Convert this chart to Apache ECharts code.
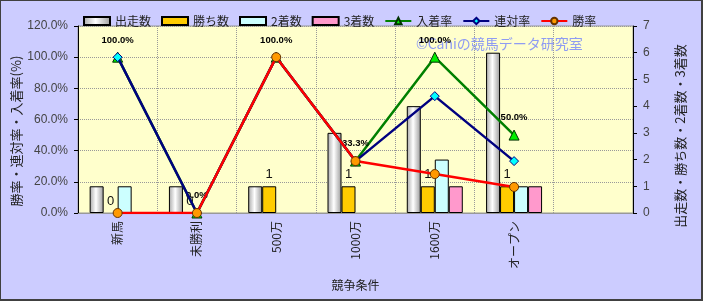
<!DOCTYPE html>
<html><head><meta charset="utf-8">
<script src="https://cdn.jsdelivr.net/npm/echarts@6/dist/echarts.min.js"></script>
<style>
html,body{margin:0;padding:0;background:#ccccff;}
#c{width:703px;height:301px;box-sizing:border-box;border:1px solid #404040;border-right-width:2px;border-bottom-width:2px;}
</style></head><body>
<div id="c"></div>
<script>
const categories = ['新馬','未勝利','500万','1000万','1600万','オープン',''];
const starts  = [1,1,1,3,4,6,null];
const wins    = [0,0,1,1,1,1,null];
const seconds = [1,0,0,0,2,1,null];
const thirds  = [0,0,0,0,1,1,null];
const placeRate   = [100,0,100,33.3,100,50,null];
const rentaiRate  = [100,0,100,33.3,75,33.3,null];
const winRate     = [0,0,100,33.3,25,16.7,null];
const leftTicks = [0,20,40,60,80,100,120];

const FONT = "'Liberation Sans','Noto Sans CJK JP',sans-serif";
const JP = "'Noto Sans CJK JP',sans-serif";
const chart = echarts.init(document.getElementById('c'), null, {renderer:'canvas'});
const grayGrad = new echarts.graphic.LinearGradient(0,0,1,0,[
  {offset:0,color:'#a8a8a8'},{offset:0.45,color:'#ffffff'},{offset:1,color:'#9a9a9a'}]);
const barBase = {type:'bar', yAxisIndex:1, barWidth:14, barGap:'0%'};
// zero-height bars are not outlined in the reference
const hideZero = arr => arr.map(v => v === 0 ? {value:v, itemStyle:{borderWidth:0}} : v);
chart.setOption({
  animation:false,
  backgroundColor:'#ccccff',
  textStyle:{fontFamily:FONT},
  legend:{
    left:77, top:9, itemWidth:26, itemHeight:8, itemGap:10,
    textStyle:{fontSize:12, color:'#222', fontFamily:JP},
    data:[
      {name:'出走数',icon:'rect'},{name:'勝ち数',icon:'rect'},{name:'2着数',icon:'rect'},{name:'3着数',icon:'rect'},
      {name:'入着率'},{name:'連対率'},{name:'勝率'}]
  },
  grid:{left:77,right:68,top:25,bottom:86,show:true,backgroundColor:'#ffffcc',borderColor:'#999',borderWidth:1},
  xAxis:{
    type:'category', data:categories,
    name:'競争条件', nameLocation:'middle', nameGap:66,
    nameTextStyle:{fontSize:12,color:'#222',fontFamily:JP},
    axisLine:{lineStyle:{color:'#999'}}, axisTick:{show:false},
    axisLabel:{rotate:90, fontSize:12, color:'#222', margin:8, fontFamily:JP},
    splitLine:{show:true, lineStyle:{color:'#999', type:'dotted'}}
  },
  yAxis:[
    {type:'value', min:0, max:120, interval:20,
     axisLine:{show:true,lineStyle:{color:'#000'}}, axisTick:{show:true,length:4,lineStyle:{color:'#000'}},
     axisLabel:{fontSize:12,color:'#444',margin:10,formatter:v=>v.toFixed(1)+'%'},
     splitLine:{show:true,lineStyle:{color:'#999',type:'dotted'}}},
    {type:'value', min:0, max:7, interval:1, position:'right',
     axisLine:{show:true,lineStyle:{color:'#000'}}, axisTick:{show:true,length:4,lineStyle:{color:'#000'}},
     axisLabel:{fontSize:12,color:'#444',margin:10},
     splitLine:{show:false}}
  ],
  graphic:[
    {type:'text', x:15, y:130, rotation:Math.PI/2, z:5,
     style:{text:'勝率・連対率・入着率(%)', fontSize:13, fontFamily:JP, fill:'#222', align:'center', verticalAlign:'middle'}},
    {type:'text', x:679, y:135, rotation:Math.PI/2, z:5,
     style:{text:'出走数・勝ち数・2着数・3着数', fontSize:13, fontFamily:JP, fill:'#222', align:'center', verticalAlign:'middle'}},
    {type:'text', left:415, top:36, z:1,
     style:{text:'©Caniの競馬データ研究室', fontSize:14, fontFamily:JP, fill:'#8f9cf2'}}
  ],
  series:[
    Object.assign({}, barBase, {name:'出走数', data:hideZero(starts), itemStyle:{color:grayGrad,borderColor:'#000',borderWidth:1}}),
    Object.assign({}, barBase, {name:'勝ち数', data:hideZero(wins), itemStyle:{color:'#ffcc00',borderColor:'#000',borderWidth:1},
      label:{show:true,position:'top',distance:5,fontSize:13,color:'#111'}}),
    Object.assign({}, barBase, {name:'2着数', data:hideZero(seconds), itemStyle:{color:'#ccffff',borderColor:'#000',borderWidth:1}}),
    Object.assign({}, barBase, {name:'3着数', data:hideZero(thirds), itemStyle:{color:'#ff99cc',borderColor:'#000',borderWidth:1}}),
    {type:'line', name:'入着率', data:placeRate, yAxisIndex:0, z:3,
     lineStyle:{color:'#008000',width:2.5}, symbol:'triangle', symbolSize:10,
     itemStyle:{color:'#00ee00',borderColor:'#003300',borderWidth:1},
     label:{show:true,position:'top',distance:7,fontSize:9.5,fontWeight:'bold',color:'#000',formatter:p=>p.value.toFixed(1)+'%'}},
    {type:'line', name:'連対率', data:rentaiRate, yAxisIndex:0, z:4,
     lineStyle:{color:'#000080',width:2.5}, symbol:'diamond', symbolSize:9,
     itemStyle:{color:'#00ffff',borderColor:'#000080',borderWidth:1}},
    {type:'line', name:'勝率', data:winRate, yAxisIndex:0, z:5,
     lineStyle:{color:'#ff0000',width:2.5}, symbol:'circle', symbolSize:9,
     itemStyle:{color:'#ff9900',borderColor:'#663300',borderWidth:1}}
  ]
});
</script></body></html>
